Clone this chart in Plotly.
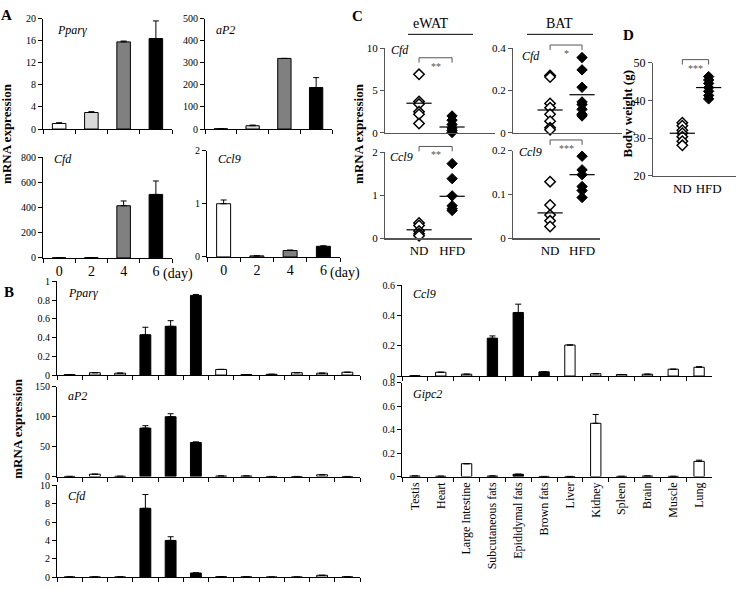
import plotly.graph_objects as go

W, H = 736, 590
FONT = "Liberation Serif"

# ---------------- Panel A data ----------------
days = ["0", "2", "4", "6"]
a_colors = ["white", "#d9d9d9", "#808080", "black"]
a_ppary = [1.0, 3.0, 15.8, 16.4]
a_ppary_err = [0.15, 0.15, 0.15, 3.2]
a_ap2 = [1.5, 15, 320, 188]
a_ap2_err = [0, 3, 0, 45]
a_cfd = [1, 2, 415, 505]
a_cfd_err = [0, 0, 38, 107]
a_ccl9 = [1.0, 0.02, 0.12, 0.20]
a_ccl9_err = [0.07, 0.0, 0.01, 0.01]

# ---------------- Panel B data ----------------
tissues = ["Testis", "Heart", "Large Intestine", "Subcutaneous fats", "Epididymal fats",
           "Brown fats", "Liver", "Kidney", "Spleen", "Brain", "Muscle", "Lung"]
fat_tissue = [False, False, False, True, True, True, False, False, False, False, False, False]
b_ppary = [0.005, 0.025, 0.02, 0.43, 0.52, 0.85, 0.06, 0.005, 0.008, 0.025, 0.02, 0.03]
b_ppary_err = [0, 0, 0, 0.08, 0.06, 0.01, 0, 0, 0, 0, 0, 0]
b_ap2 = [0.3, 4, 0.5, 81, 100, 57, 1, 1, 0.2, 0.2, 3, 0.2]
b_ap2_err = [0, 0, 0, 4, 5, 1, 0, 0, 0, 0, 0, 0]
b_cfd = [0.02, 0.02, 0.02, 7.5, 4.0, 0.45, 0.05, 0.03, 0.01, 0.01, 0.2, 0.03]
b_cfd_err = [0, 0, 0, 1.5, 0.4, 0, 0, 0, 0, 0, 0, 0]
b_ccl9 = [0.002, 0.025, 0.012, 0.25, 0.42, 0.028, 0.205, 0.015, 0.01, 0.012, 0.045, 0.058]
b_ccl9_err = [0, 0, 0, 0.015, 0.055, 0, 0, 0, 0, 0, 0, 0.004]
b_gipc2 = [0.005, 0.003, 0.11, 0.005, 0.02, 0.001, 0.001, 0.455, 0.002, 0.005, 0.002, 0.13]
b_gipc2_err = [0, 0, 0, 0, 0, 0, 0, 0.075, 0, 0, 0, 0.01]

# ---------------- Panel C / D data ----------------
groups = ["ND", "HFD"]
ewat_cfd_nd = [6.9, 3.7, 3.4, 2.5, 2.2, 1.1]
ewat_cfd_hfd = [2.0, 1.5, 1.0, 0.6, 0.3, 0.05]
ewat_cfd_mean = [3.5, 0.7]
bat_cfd_nd = [0.27, 0.263, 0.139, 0.119, 0.088, 0.055, 0.024, 0.015]
bat_cfd_hfd = [0.355, 0.297, 0.215, 0.146, 0.134, 0.111, 0.088, 0.08]
bat_cfd_mean = [0.108, 0.18]
ewat_ccl9_nd = [0.36, 0.3, 0.17, 0.11, 0.06]
ewat_ccl9_hfd = [1.74, 1.39, 0.99, 0.76, 0.69, 0.65]
ewat_ccl9_mean = [0.2, 0.98]
bat_ccl9_nd = [0.129, 0.076, 0.053, 0.04, 0.027]
bat_ccl9_hfd = [0.187, 0.156, 0.145, 0.118, 0.109, 0.093]
bat_ccl9_mean = [0.058, 0.145]
bw_nd = [34.1, 33.3, 32.1, 31.3, 30.4, 29.2, 28.1]
bw_hfd = [46.3, 45.4, 44.5, 43.4, 42.4, 41.3, 40.4]
bw_mean = [31.3, 43.4]
sig_labels = ["**", "*", "**", "***", "***"]
sig_levels = [8.85, 0.414, 2.14, 0.224, 50.8]


def xd(x0, x1):
    return [x0 / W, x1 / W]


def yd(top, bottom):
    return [1 - bottom / H, 1 - top / H]


fig = go.Figure()
layout = dict(width=W, height=H, margin=dict(l=0, r=0, t=0, b=0),
              paper_bgcolor="white", plot_bgcolor="white", showlegend=False,
              font=dict(family=FONT, color="black", size=11))
annotations = []
shapes = []


def axname(i):
    return ("xaxis", "yaxis") if i == 1 else ("xaxis%d" % i, "yaxis%d" % i)


def axref(i):
    return ("x", "y") if i == 1 else ("x%d" % i, "y%d" % i)


def bar_panel(i, xdom, ydom, cats, vals, errs, colors, yrange, dtick, width,
              showlabels, labelsize=11, tickangle=0):
    xa, ya = axname(i)
    xr, yr = axref(i)
    fig.add_trace(go.Bar(
        x=cats, y=vals, width=width,
        marker=dict(color=colors, line=dict(color="black", width=1)),
        error_y=dict(type="data", array=errs, arrayminus=[0] * len(errs), symmetric=False,
                     color="black", thickness=1, width=3),
        xaxis=xr, yaxis=yr, showlegend=False))
    layout[xa] = dict(domain=xdom, anchor=yr, type="category", range=[-0.5, len(cats) - 0.5],
                      autorange=False, showline=True, linecolor="black",
                      linewidth=1, ticks="outside", tickson="boundaries", ticklen=4,
                      tickcolor="black", showgrid=False, zeroline=False,
                      showticklabels=showlabels, tickfont=dict(size=labelsize),
                      tickangle=tickangle, fixedrange=True)
    layout[ya] = dict(domain=ydom, anchor=xr, range=yrange, dtick=dtick, showline=True,
                      linecolor="black", linewidth=1, ticks="outside", ticklen=4,
                      tickcolor="black", showgrid=False, zeroline=False,
                      tickfont=dict(size=10))


def gene_label(i, text, xf, yf):
    xr, yr = axref(i)
    annotations.append(dict(text="<i>%s</i>" % text, xref=xr + " domain", yref=yr + " domain",
                            x=xf, y=yf, xanchor="left", yanchor="middle", showarrow=False,
                            font=dict(size=12, family=FONT)))


# ---------------- Panel A ----------------
bar_panel(1, xd(43, 172), yd(12, 125), days, a_ppary, a_ppary_err, a_colors, [0, 20], 4, 0.42, False)
bar_panel(2, xd(205, 332), yd(12, 125), days, a_ap2, a_ap2_err, a_colors, [0, 500], 100, 0.42, False)
bar_panel(3, xd(43, 172), yd(154, 257), days, a_cfd, a_cfd_err, a_colors, [0, 800], 200, 0.42, True, 14)
bar_panel(4, xd(207, 340), yd(147, 256), days, a_ccl9, a_ccl9_err, a_colors, [0, 2], 1, 0.42, True, 14)
gene_label(1, "Pparγ", 0.09, 0.9)
gene_label(2, "aP2", 0.07, 0.9)
gene_label(3, "Cfd", 0.07, 0.98)
gene_label(4, "Ccl9", 0.07, 0.92)
for i in (3, 4):
    xr, yr = axref(i)
    annotations.append(dict(text="(day)", xref=xr + " domain", yref=yr + " domain",
                            x=(len(days) - 0.5) / len(days), y=0,
                            xshift=5, yshift=-6, xanchor="left", yanchor="top",
                            showarrow=False, font=dict(size=14, family=FONT)))

# ---------------- Panel B ----------------
b_colors = ["black" if f else "white" for f in fat_tissue]
bar_panel(5, xd(57, 360), yd(281, 377), tissues, b_ppary, b_ppary_err, b_colors, [0, 1], 0.2, 0.43, False)
bar_panel(6, xd(57, 360), yd(389, 481), tissues, b_ap2, b_ap2_err, b_colors, [0, 150], 50, 0.43, False)
bar_panel(7, xd(57, 360), yd(490, 584), tissues, b_cfd, b_cfd_err, b_colors, [0, 10], 2, 0.43, False)
bar_panel(8, xd(402, 712), yd(285, 378), tissues, b_ccl9, b_ccl9_err, b_colors, [0, 0.6], 0.2, 0.4, False)
bar_panel(9, xd(402, 712), yd(385, 481), tissues, b_gipc2, b_gipc2_err, b_colors, [0, 0.8], 0.2, 0.4,
          True, 12, -90)
gene_label(5, "Pparγ", 0.03, 0.88)
gene_label(6, "aP2", 0.03, 0.9)
gene_label(7, "Cfd", 0.03, 0.88)
gene_label(8, "Ccl9", 0.03, 0.9)
gene_label(9, "Gipc2", 0.03, 0.88)

# ---------------- Panel C / D ----------------
GRAY = "#555555"
dot_specs = [
    (10, xd(385, 495), yd(42, 129), [-1.03, 2.3], [0, 10], 5, ewat_cfd_nd, ewat_cfd_hfd, ewat_cfd_mean, False),
    (11, xd(513, 622), yd(42, 129), [-1.16, 2.25], [0, 0.4], 0.2, bat_cfd_nd, bat_cfd_hfd, bat_cfd_mean, False),
    (12, xd(385, 472), yd(149, 237), [-1.03, 1.6], [0, 2], 1, ewat_ccl9_nd, ewat_ccl9_hfd, ewat_ccl9_mean, True),
    (13, xd(513, 600), yd(147, 237), [-1.16, 1.56], [0, 0.2], 0.1, bat_ccl9_nd, bat_ccl9_hfd, bat_ccl9_mean, True),
    (14, xd(653, 736), yd(57, 173), [-1.115, 2.04], [20, 50], 10, bw_nd, bw_hfd, bw_mean, True),
]


def to_paper(v, rng, dom):
    return dom[0] + (v - rng[0]) / (rng[1] - rng[0]) * (dom[1] - dom[0])


for k, (i, xdom, ydom, xrng, yrng, dt, nd, hfd, mean, showlab) in enumerate(dot_specs):
    xa, ya = axname(i)
    xr, yr = axref(i)
    fig.add_trace(go.Scatter(x=[0] * len(nd), y=nd, mode="markers", cliponaxis=False,
                             marker=dict(symbol="diamond", size=8, color="white",
                                         line=dict(color="black", width=1.5)),
                             xaxis=xr, yaxis=yr))
    fig.add_trace(go.Scatter(x=[1] * len(hfd), y=hfd, mode="markers", cliponaxis=False,
                             marker=dict(symbol="diamond", size=8, color="black",
                                         line=dict(color="black", width=1)),
                             xaxis=xr, yaxis=yr))
    fig.add_trace(go.Scatter(x=[0, 1], y=mean, mode="markers", cliponaxis=False,
                             marker=dict(symbol="line-ew", size=18,
                                         line=dict(color="black", width=1.2)),
                             xaxis=xr, yaxis=yr))
    layout[xa] = dict(domain=xdom, anchor=yr, range=xrng, showline=True, linecolor=GRAY,
                      linewidth=1.2, ticks="", showgrid=False, zeroline=False,
                      tickvals=[0, 1], ticktext=groups, showticklabels=showlab,
                      tickfont=dict(size=13), fixedrange=True)
    layout[ya] = dict(domain=ydom, anchor=xr, range=yrng, dtick=dt, showline=True,
                      linecolor=GRAY, linewidth=1, ticks="outside", ticklen=4, tickcolor=GRAY,
                      showgrid=False, zeroline=False, tickfont=dict(size=12 if i == 14 else 11))
    # significance bracket
    lvl = sig_levels[k]
    xl = to_paper(0, xrng, xdom)
    xh = to_paper(1, xrng, xdom)
    yt = to_paper(lvl, yrng, ydom)
    leg = 5 / H
    shapes.append(dict(type="path", xref="paper", yref="paper",
                       path="M %f %f L %f %f L %f %f L %f %f" % (xl, yt - leg, xl, yt, xh, yt, xh, yt - leg),
                       line=dict(color=GRAY, width=1)))
    annotations.append(dict(text=sig_labels[k], xref="paper", yref="paper", x=(xl + xh) / 2,
                            y=yt, yshift=-1, xanchor="center", yanchor="top", showarrow=False,
                            font=dict(size=10, color=GRAY, family=FONT)))

gene_label(10, "Cfd", 0.04, 0.98)
gene_label(11, "Cfd", 0.06, 0.9)
gene_label(12, "Ccl9", 0.04, 0.95)
gene_label(13, "Ccl9", 0.05, 0.98)

# headers eWAT / BAT
for text, cx, x0, x1 in [("eWAT", 430, 408, 473), ("BAT", 559, 527, 593)]:
    annotations.append(dict(text=text, xref="paper", yref="paper", x=cx / W, y=1 - 17 / H,
                            xanchor="center", yanchor="middle", showarrow=False,
                            font=dict(size=14, family=FONT)))
    shapes.append(dict(type="line", xref="paper", yref="paper", x0=x0 / W, x1=x1 / W,
                       y0=1 - 28 / H, y1=1 - 28 / H, line=dict(color="black", width=1)))

# axis titles
for text, cx, cy in [("mRNA expression", 7, 130), ("mRNA expression", 18, 432),
                     ("mRNA expression", 359, 130), ("Body weight (g)", 627, 110)]:
    annotations.append(dict(text="<b>%s</b>" % text, xref="paper", yref="paper", x=cx / W,
                            y=1 - cy / H, xanchor="center", yanchor="middle", textangle=-90,
                            showarrow=False, font=dict(size=13, family=FONT)))

# panel letters
for text, cx, cy in [("A", 6, 8), ("B", 9, 292), ("C", 357, 9), ("D", 628, 29)]:
    annotations.append(dict(text="<b>%s</b>" % text, xref="paper", yref="paper", x=cx / W,
                            y=1 - cy / H, xanchor="center", yanchor="middle", showarrow=False,
                            font=dict(size=15, family=FONT)))

layout["annotations"] = annotations
layout["shapes"] = shapes
fig.update_layout(**layout)
fig.write_html("out.html", config={"displayModeBar": False, "staticPlot": True},
               post_script="document.body.style.margin='0px';document.body.style.overflow='hidden';")
